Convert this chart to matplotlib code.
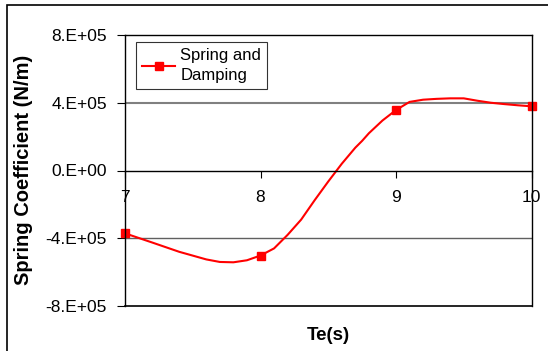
import matplotlib
matplotlib.use("Agg")
from matplotlib import pyplot as plt
from matplotlib.patches import Rectangle

te = [7.0, 7.2, 7.4, 7.6, 7.7, 7.8, 7.9, 8.0, 8.1, 8.2, 8.3, 8.4, 8.5, 8.6,
      8.7, 8.75, 8.8, 8.9, 9.0, 9.1, 9.2, 9.3, 9.4, 9.5, 9.6, 9.7, 9.8, 9.9, 10.0]
spring = [-3.71e5, -4.25e5, -4.8e5, -5.25e5, -5.4e5, -5.42e5, -5.3e5, -5.02e5,
          -4.6e5, -3.8e5, -2.9e5, -1.75e5, -0.65e5, 0.4e5, 1.35e5, 1.75e5,
          2.2e5, 2.95e5, 3.57e5, 4.05e5, 4.18e5, 4.23e5, 4.26e5, 4.26e5,
          4.12e5, 4.0e5, 3.92e5, 3.85e5, 3.79e5]
marker_te = [7, 8, 9, 10]
yticks = [-8e5, -4e5, 0, 4e5, 8e5]
ytick_labels = ['-8.E+05', '-4.E+05', '0.E+00', '4.E+05', '8.E+05']
xticks = [7, 8, 9, 10]

plt.rcParams['font.family'] = ['Liberation Sans', 'DejaVu Sans']

fig = plt.figure(figsize=(5.48, 3.51), dpi=100)
fig.patches.append(Rectangle((7/548, -0.1), 1.2, 1 - 5/351 + 0.1,
                             transform=fig.transFigure, fill=False,
                             edgecolor='black', lw=1.2))
ax = fig.add_axes([125/548, 1-306/351, 406.5/548, 271/351])

marks = [te.index(m) for m in marker_te]
ax.plot(te, spring, color='red', lw=1.5, marker='s', markersize=5.5,
        markevery=marks, label='Spring and\nDamping', clip_on=False)

# x axis crosses at zero, like the Excel original
ax.spines['bottom'].set_position(('data', 0))
for s in ['left', 'right', 'top', 'bottom']:
    ax.spines[s].set_linewidth(1)

ax.set_xlim(7, 10)
ax.set_ylim(-8e5, 8e5)
ax.set_yticks(yticks)
ax.set_yticklabels(ytick_labels)
ax.set_xticks(xticks)
ax.set_xticklabels([str(x) for x in xticks])
ax.tick_params(axis='y', direction='out', length=6, width=0.8, pad=7,
               labelsize=12.5)
ax.tick_params(axis='x', direction='out', length=5, width=0.8, pad=9,
               labelsize=12.5)
ax.axhline(4e5, color='#808080', lw=1.5, zorder=1)
ax.axhline(-4e5, color='#606060', lw=1, zorder=1)
ax.axhline(-8e5, color='black', lw=1.2, zorder=1, clip_on=False)

fig.text(328/548, 1-335/351, 'Te(s)', fontsize=13.5, fontweight='bold',
         ha='center', va='center')
fig.text(24/548, 1-170/351, 'Spring Coefficient (N/m)', fontsize=14.5,
         fontweight='bold', rotation=90, ha='center', va='center')

leg = ax.legend(loc='upper left', bbox_to_anchor=(11/406.5, 1-7/271),
                fontsize=12, frameon=True, fancybox=False, handlelength=2.0,
                borderpad=0.35, handletextpad=0.3, borderaxespad=0)
leg.get_texts()[0].set_linespacing(1.45)
leg.get_frame().set_edgecolor('black')
leg.get_frame().set_linewidth(0.8)

fig.savefig('out.png')
